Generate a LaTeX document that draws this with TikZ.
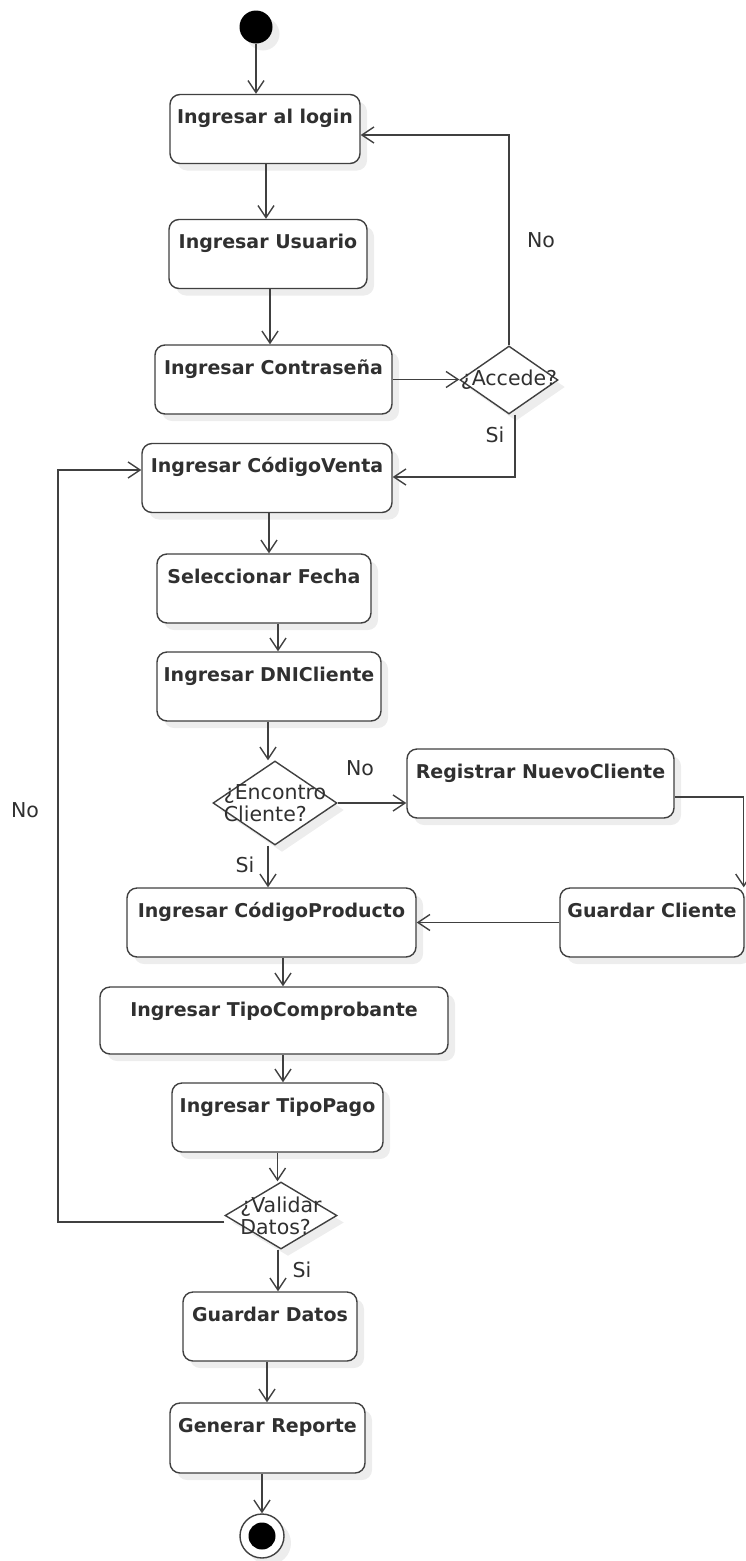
\documentclass[tikz,border=0pt]{standalone}
\usepackage{fontspec}
\setmainfont{DejaVu Sans}
\usetikzlibrary{arrows.meta,shapes.geometric,shadows,calc}
\definecolor{lc}{HTML}{404040}
\definecolor{tc}{HTML}{303030}
\tikzset{
  softshadow/.style={drop shadow={shadow xshift=7pt, shadow yshift=-7pt, opacity=0.07, fill=black}},
  act/.style={draw=lc, line width=1.4pt, rounded corners=10pt, fill=white,
    minimum height=69pt, inner sep=0pt, softshadow},
  acttext/.style={anchor=base, yshift=-30pt, text=tc,
    font=\bfseries\fontsize{19}{22}\selectfont},
  dec/.style={diamond, draw=lc, line width=1.4pt, fill=white, inner sep=0pt, softshadow},
  dectext/.style={text=tc, align=left, font=\fontsize{20.5}{22}\selectfont},
  flow/.style={draw=lc, line width=1.4pt, -{Straight Barb[length=12pt,width=16pt]}},
  guard/.style={text=tc, font=\fontsize{20.5}{22}\selectfont},
}
\begin{document}
\begin{tikzpicture}[x=1pt,y=-1pt]
\useasboundingbox (0,0) rectangle (746,1561);

% start and end states
\node[circle, fill=black, minimum size=33pt, inner sep=0pt, softshadow] (start) at (256,27) {};
\node[circle, draw=lc, line width=1.4pt, fill=white, minimum size=44pt, inner sep=0pt, softshadow] (finish) at (262,1536) {};
\node[circle, fill=black, minimum size=27pt, inner sep=0pt] (finishdot) at (finish) {};

% activities
\node[act, minimum width=190pt, label={[acttext]north:Ingresar al login}] (login) at (265,129) {};
\node[act, minimum width=198pt, label={[acttext]north:Ingresar Usuario}] (user) at (268,254) {};
\node[act, minimum width=237pt, label={[acttext]north:Ingresar Contraseña}] (pass) at (273.5,379.5) {};
\node[act, minimum width=250pt, label={[acttext]north:Ingresar CódigoVenta}] (venta) at (267,478) {};
\node[act, minimum width=214pt, label={[acttext]north:Seleccionar Fecha}] (fecha) at (264,588.5) {};
\node[act, minimum width=224pt, label={[acttext]north:Ingresar DNICliente}] (dni) at (269,686.5) {};
\node[act, minimum width=267pt, label={[acttext]north:Registrar NuevoCliente}] (reg) at (540.5,783.5) {};
\node[act, minimum width=184pt, label={[acttext]north:Guardar Cliente}] (gcli) at (652,922.5) {};
\node[act, minimum width=289pt, label={[acttext]north:Ingresar CódigoProducto}] (prod) at (271.5,922.5) {};
\node[act, minimum width=348pt, minimum height=67pt, label={[acttext]north:Ingresar TipoComprobante}] (tipoc) at (274,1020.5) {};
\node[act, minimum width=211pt, label={[acttext]north:Ingresar TipoPago}] (tipop) at (277.5,1117.5) {};
\node[act, minimum width=174pt, label={[acttext]north:Guardar Datos}] (gdatos) at (270,1326.5) {};
\node[act, minimum width=195pt, minimum height=70pt, label={[acttext]north:Generar Reporte}] (rep) at (267.5,1438) {};

% decisions
\node[dec, minimum width=98pt, minimum height=68pt, label={[dectext]center:¿Accede?}] (acc) at (509,380) {};
\node[dec, minimum width=124pt, minimum height=84pt, label={[dectext]center:{¿Encontro\\Cliente?}}] (enc) at (275,803) {};
\node[dec, minimum width=112pt, minimum height=67pt, label={[dectext]center:{¿Validar\\Datos?}}] (val) at (281,1215.5) {};

% straight flows
\draw[flow] (start) -- (start |- login.north);
\draw[flow] ($(login.south)+(1,0)$) -- ($(login.south |- user.north)+(1,0)$);
\draw[flow] ($(user.south)+(2,0)$) -- ($(user.south |- pass.north)+(2,0)$);
\draw[flow] (pass.east) -- (pass.east -| acc.west);
\draw[flow] ($(venta.south)+(2,0)$) -- ($(venta.south |- fecha.north)+(2,0)$);
\draw[flow] ($(fecha.south)+(14,0)$) -- ($(fecha.south |- dni.north)+(14,0)$);
\draw[flow] ($(dni.south)+(-1,0)$) -- ($(dni.south |- enc.north)+(-1,0)$);
\draw[flow] (enc.east) -- (enc.east -| reg.west);
\draw[flow] ($(enc.south)+(-7,0)$) -- ($(enc.south |- prod.north)+(-7,0)$);
\draw[flow] (gcli.west) -- (gcli.west -| prod.east);
\draw[flow] ($(prod.south)+(11.5,0)$) -- ($(prod.south |- tipoc.north)+(11.5,0)$);
\draw[flow] ($(tipoc.south)+(9,0)$) -- ($(tipoc.south |- tipop.north)+(9,0)$);
\draw[flow] (tipop.south) -- (tipop.south |- val.north);
\draw[flow] ($(val.south)+(-3,0)$) -- ($(val.south |- gdatos.north)+(-3,0)$);
\draw[flow] ($(gdatos.south)+(-3,0)$) -- ($(gdatos.south |- rep.north)+(-3,0)$);
\draw[flow] (rep.south -| finish.north) -- (finish.north);

% bent flows
\draw[flow] (acc.north) |- ($(login.east)+(0,6)$);
\draw[flow] ($(acc.south)+(6,0)$) |- ($(venta.east)+(0,-1)$);
\draw[flow] ($(reg.east)+(0,13.5)$) -| ($(gcli.north east)+(-1,0)$);
\coordinate (back) at (58,1222);
\draw[flow] ($(val.west)+(0,6.5)$) -- (back) |- ($(venta.west)+(0,-8)$);

% guards
\node[guard] (g1) at (541,240) {No};
\node[guard] (g2) at (495,435) {Si};
\node[guard] (g3) at (360,768) {No};
\node[guard] (g4) at (245,865) {Si};
\node[guard] (g5) at (25,810) {No};
\node[guard] (g6) at (302,1270) {Si};
\end{tikzpicture}
\end{document}
